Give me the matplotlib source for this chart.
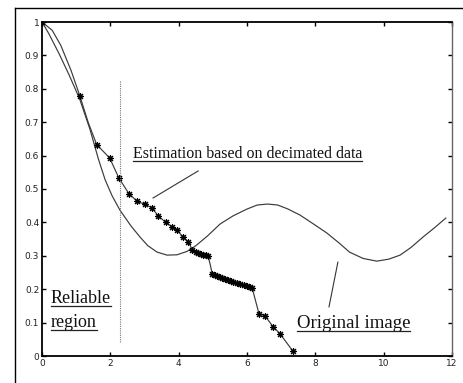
import matplotlib
matplotlib.use("Agg")
import matplotlib.pyplot as plt
from matplotlib.lines import Line2D

# Original image curve
orig_x = [0.0, 0.2, 0.5, 0.8, 1.1, 1.4, 1.65, 1.85, 2.05, 2.28, 2.6, 2.87, 3.1, 3.37, 3.66,
          3.95, 4.24, 4.5, 4.85, 5.21, 5.6, 6.0, 6.3, 6.6, 6.9, 7.2, 7.55, 7.95, 8.34, 8.7,
          9.0, 9.4, 9.8, 10.15, 10.48, 10.8, 11.15, 11.5, 11.82]
orig_y = [1.0, 0.965, 0.905, 0.84, 0.77, 0.68, 0.59, 0.527, 0.48, 0.437, 0.39, 0.356, 0.33,
          0.311, 0.302, 0.303, 0.313, 0.33, 0.36, 0.395, 0.42, 0.44, 0.452, 0.455, 0.452,
          0.44, 0.422, 0.395, 0.368, 0.338, 0.311, 0.292, 0.284, 0.29, 0.302, 0.325, 0.356,
          0.385, 0.413]

# Estimation based on decimated data (line vertices)
est_x = [0.0, 0.3, 0.55, 0.85, 1.11, 1.35, 1.60, 1.98, 2.25, 2.55, 2.79, 3.01, 3.21, 3.40,
         3.62, 3.80, 3.95, 4.12, 4.28, 4.40, 4.50, 4.58, 4.65, 4.72, 4.80, 4.86, 4.92, 4.98,
         5.05, 5.12, 5.20, 5.28, 5.36, 5.44, 5.52, 5.60, 5.70, 5.80, 5.90, 6.00, 6.08, 6.15,
         6.35, 6.53, 6.76, 6.97, 7.34]
est_y = [1.0, 0.975, 0.93, 0.855, 0.778, 0.70, 0.633, 0.593, 0.533, 0.485, 0.463, 0.454,
         0.444, 0.420, 0.400, 0.387, 0.377, 0.357, 0.342, 0.318, 0.310, 0.307, 0.305, 0.303,
         0.301, 0.300, 0.275, 0.247, 0.243, 0.240, 0.236, 0.233, 0.230, 0.228, 0.225, 0.222,
         0.218, 0.215, 0.213, 0.211, 0.208, 0.204, 0.127, 0.120, 0.088, 0.066, 0.015]
# vertices carrying a star marker (indices into est_x / est_y)
est_star_idx = [0, 4, 6, 7, 8, 9, 10, 11, 12, 13, 14, 15, 16, 17, 18, 19, 20, 21, 22, 23,
                24, 25, 27, 28, 29, 30, 31, 32, 33, 34, 35, 36, 37, 38, 39, 40, 41, 42, 43,
                44, 45, 46]

reliable_x = 2.28
reliable_y = [0.042, 0.826]

x_ticks = [0, 2, 4, 6, 8, 10, 12]
y_ticks = [0, 0.1, 0.2, 0.3, 0.4, 0.5, 0.6, 0.7, 0.8, 0.9, 1]
y_tick_labels = ["0", "0.1", "0.2", "0.3", "0.4", "0.5", "0.6", "0.7", "0.8", "0.9", "1"]

W, H = 463, 383
fig = plt.figure(figsize=(W / 100, H / 100), dpi=100)
fig.patch.set_facecolor("white")

ax = fig.add_axes([42 / W, 1 - 356 / H, (452 - 42) / W, (356 - 22) / H])
ax.set_xlim(0, 12)
ax.set_ylim(0, 1)

ax.plot(orig_x, orig_y, color="#3a3a3a", lw=0.85)
ax.plot(est_x, est_y, color="#3a3a3a", lw=0.85)
ax.plot([est_x[i] for i in est_star_idx], [est_y[i] for i in est_star_idx],
        linestyle="none", marker=(8, 2, 0), markersize=5, mew=0.8, color="black")
ax.plot([reliable_x, reliable_x], reliable_y, color="#777777", lw=0.8, linestyle=(0, (1, 1)))

# leader lines
ax.plot([3.25, 4.57], [0.473, 0.554], color="#333333", lw=0.8)
ax.plot([8.66, 8.40], [0.281, 0.147], color="#333333", lw=0.8)

ax.set_xticks(x_ticks)
ax.set_xticklabels([str(t) for t in x_ticks])
ax.set_yticks(y_ticks)
ax.set_yticklabels(y_tick_labels)
ax.tick_params(direction="in", length=3, width=1, top=True, right=True,
               labelsize=6.5, labelcolor="#222222", pad=2)
for s in ["left", "bottom", "top"]:
    ax.spines[s].set_linewidth(1.3)
    ax.spines[s].set_color("black")
ax.spines["right"].set_linewidth(1.0)
ax.spines["right"].set_color("#666666")

serif = "Liberation Serif"
labels = [
    ("Estimation based on decimated data", 2.66, 0.593, 11.5),
    ("Reliable", 0.26, 0.159, 13.0),
    ("region", 0.26, 0.087, 13.0),
    ("Original image", 7.46, 0.084, 13.6),
]
texts = []
for s, x, y, fs in labels:
    t = ax.text(x, y, s, family=serif, fontsize=fs, color="#111111",
                ha="left", va="baseline")
    texts.append(t)

fig.canvas.draw()
r = fig.canvas.get_renderer()
inv = fig.transFigure.inverted()
for t in texts:
    bb = t.get_window_extent(r)
    bx, by = ax.transData.transform((t.get_position()))
    (x0, y0) = inv.transform((bb.x0, by - 3))
    (x1, _) = inv.transform((bb.x1, by - 3))
    fig.add_artist(Line2D([x0, x1], [y0, y0], transform=fig.transFigure,
                          color="#222222", lw=0.9))

# outer frame
fig.add_artist(Line2D([15 / W, 1], [1 - 8 / H, 1 - 8 / H], transform=fig.transFigure,
                      color="black", lw=1.0))
fig.add_artist(Line2D([15 / W, 15 / W], [0, 1 - 8 / H], transform=fig.transFigure,
                      color="black", lw=1.0))

fig.savefig("out.png", dpi=100)
